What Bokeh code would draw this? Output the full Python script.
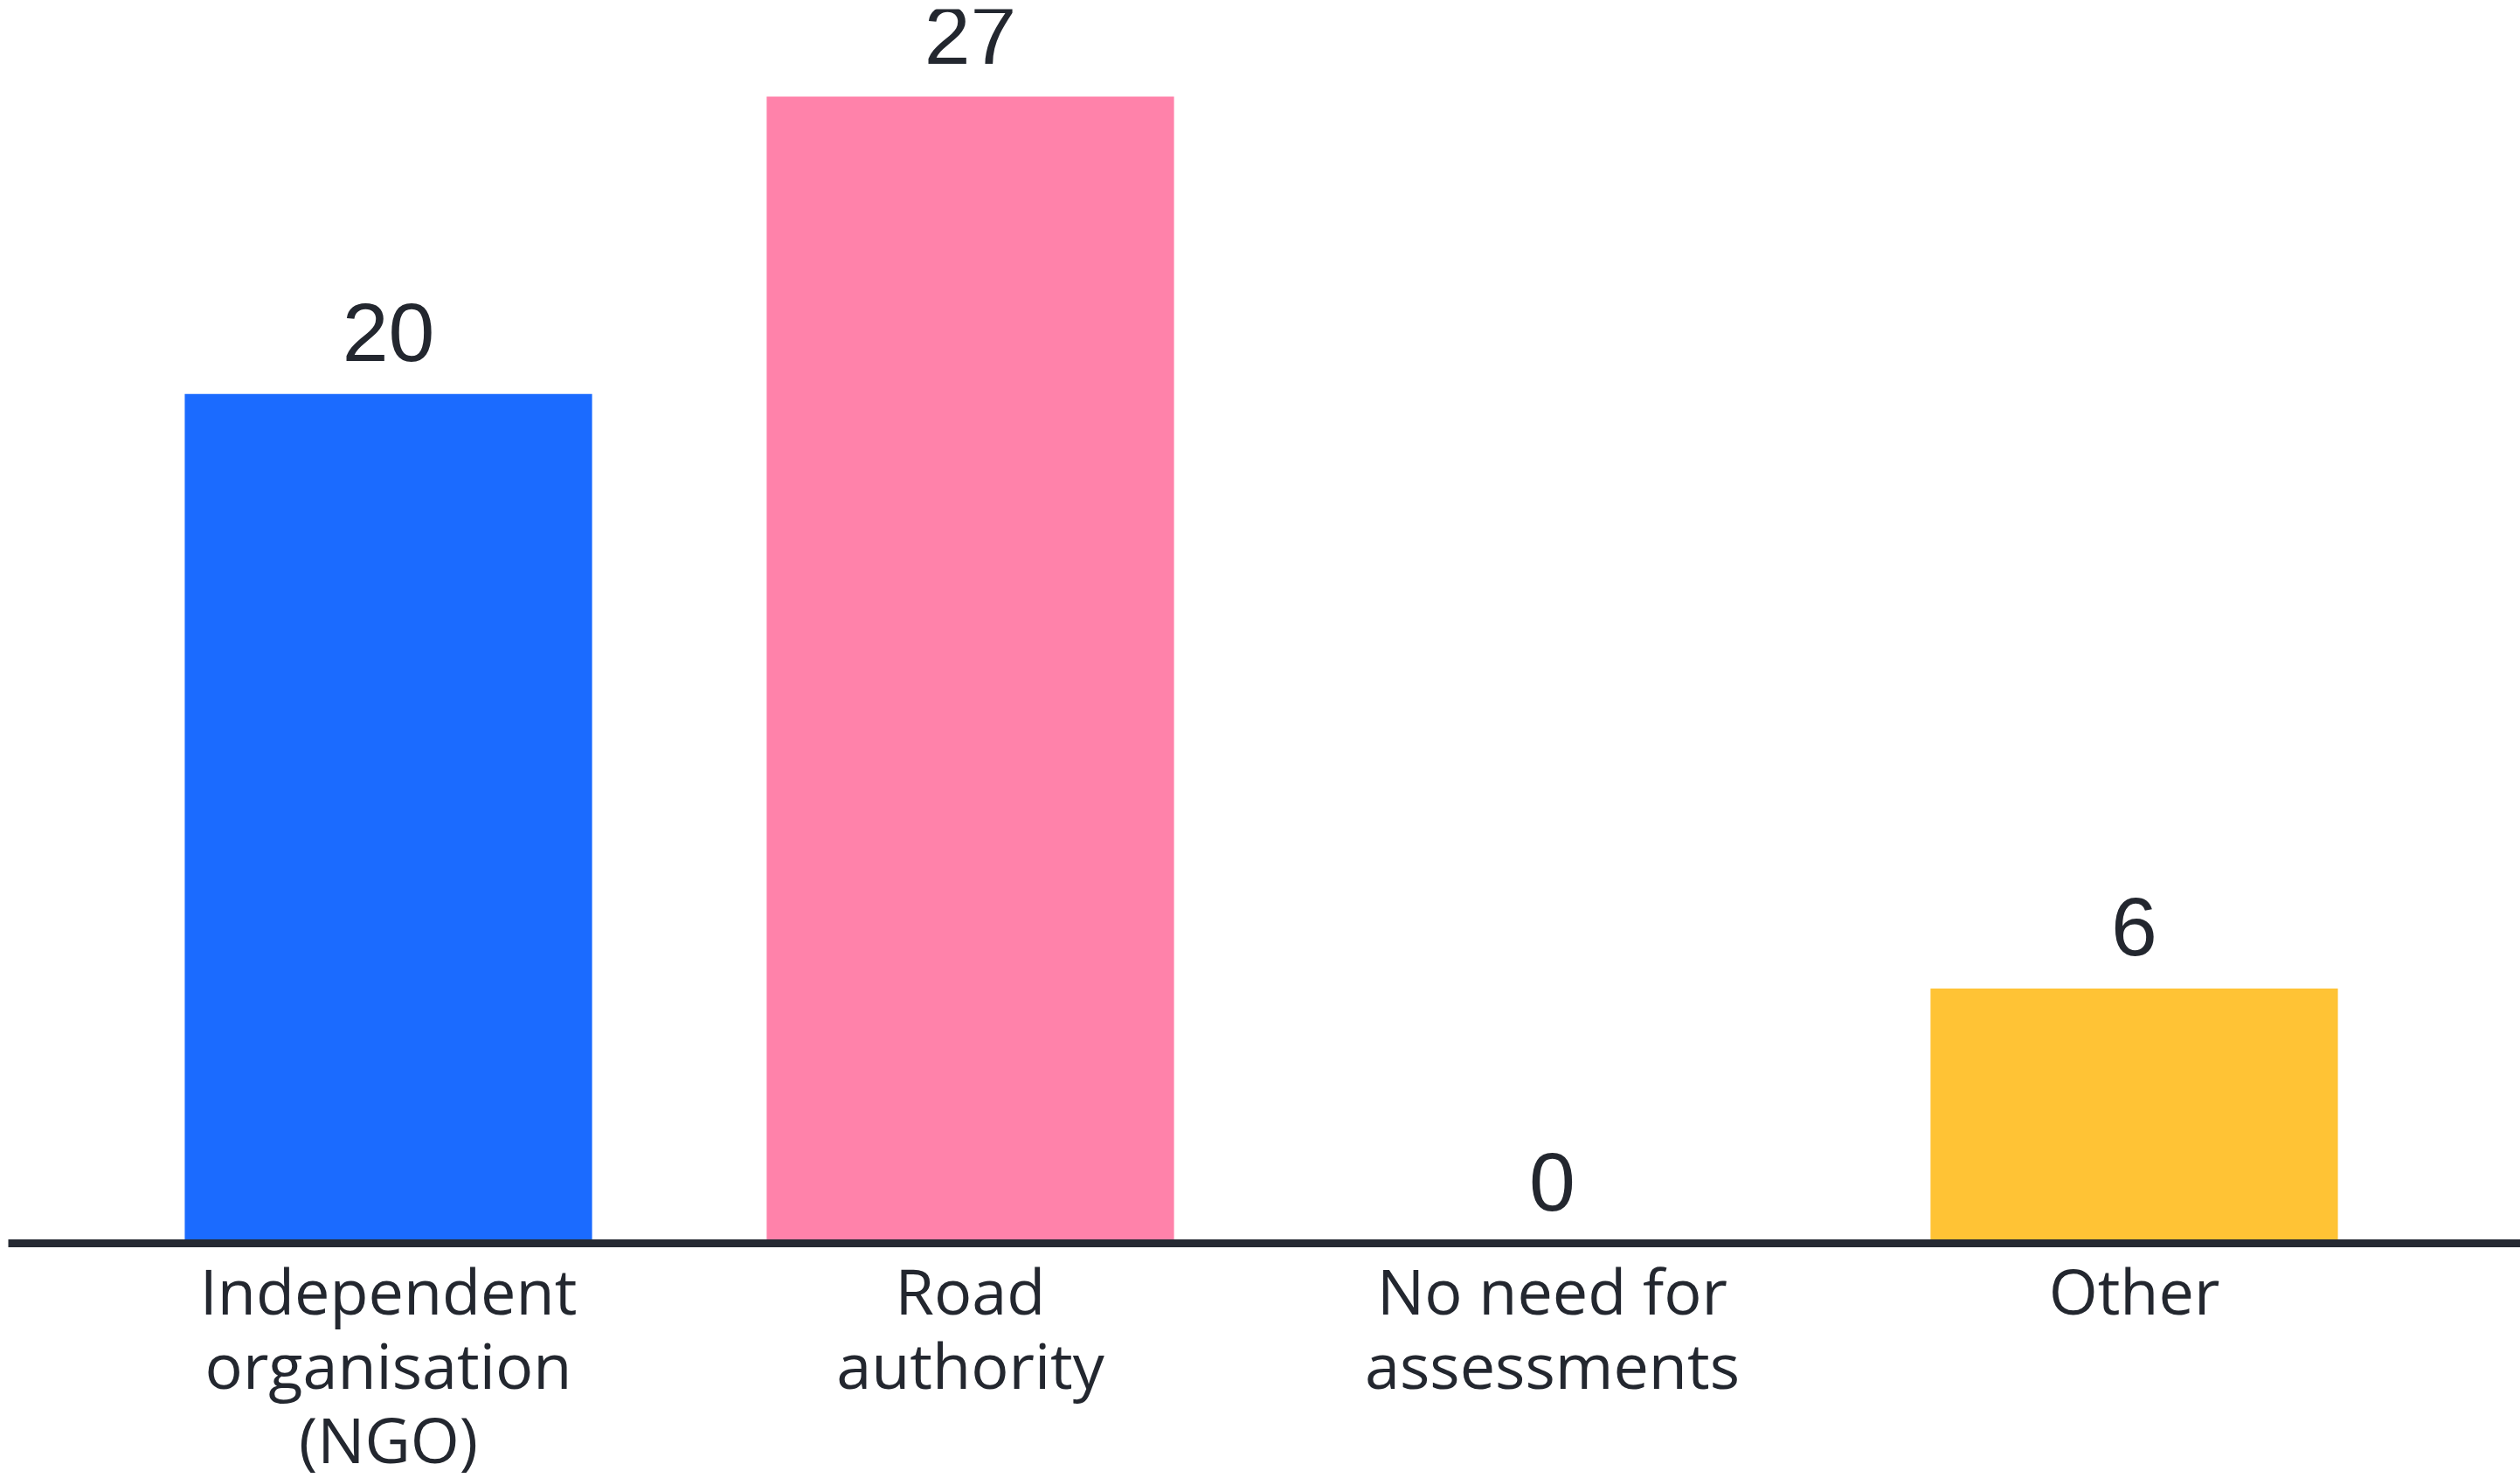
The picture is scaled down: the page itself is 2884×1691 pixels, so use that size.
from bokeh.plotting import figure
from bokeh.models import ColumnDataSource, FixedTicker, Range1d, LabelSet
from bokeh.core.properties import value
from bokeh.embed import file_html
from bokeh.resources import INLINE

# ---- data ----
categories = ["Independent\norganisation\n(NGO)", "Road\nauthority", "No need for\nassessments", "Other"]
counts = [20, 27, 0, 6]
bar_colors = ["#1b6bff", "#ff82aa", "#cccccc", "#ffc335"]
positions = [0, 1, 2, 3]
value_labels = [str(c) for c in counts]

source = ColumnDataSource(data=dict(x=positions, top=counts, color=bar_colors, label=value_labels))

TEXT = "#23272f"

p = figure(
    frame_width=2875, frame_height=1412,
    x_range=Range1d(-0.6532, 3.6637), y_range=Range1d(0, 29.06),
    output_backend="svg", toolbar_location=None, y_axis_location=None,
    min_border_left=9, min_border_right=0, min_border_top=10, min_border_bottom=0,
)
p.outline_line_color = None
p.xgrid.visible = False
p.ygrid.visible = False
p.background_fill_color = "white"
p.border_fill_color = "white"

p.vbar(x="x", top="top", width=0.7, bottom=0, color="color", line_color=None, source=source)

labels = LabelSet(x="x", y="top", text="label", source=source, text_align="center",
                  text_baseline="alphabetic", y_offset=38,
                  text_font=value("Liberation Sans"), text_font_size=value("95px"),
                  text_color=TEXT)
p.add_layout(labels)

ax = p.xaxis[0]
ax.ticker = FixedTicker(ticks=positions)
ax.major_label_overrides = {pos: lab for pos, lab in zip(positions, categories)}
ax.major_tick_line_color = None
ax.minor_tick_line_color = None
ax.major_tick_out = 0
ax.major_tick_in = 0
ax.axis_line_width = 9
ax.axis_line_color = "#262a33"
ax.major_label_standoff = 4
ax.major_label_text_font = "Open Sans"
ax.major_label_text_font_size = "72px"
ax.major_label_text_color = TEXT
ax.major_label_text_line_height = 0.87

open("out.html", "w").write(file_html(p, INLINE))
